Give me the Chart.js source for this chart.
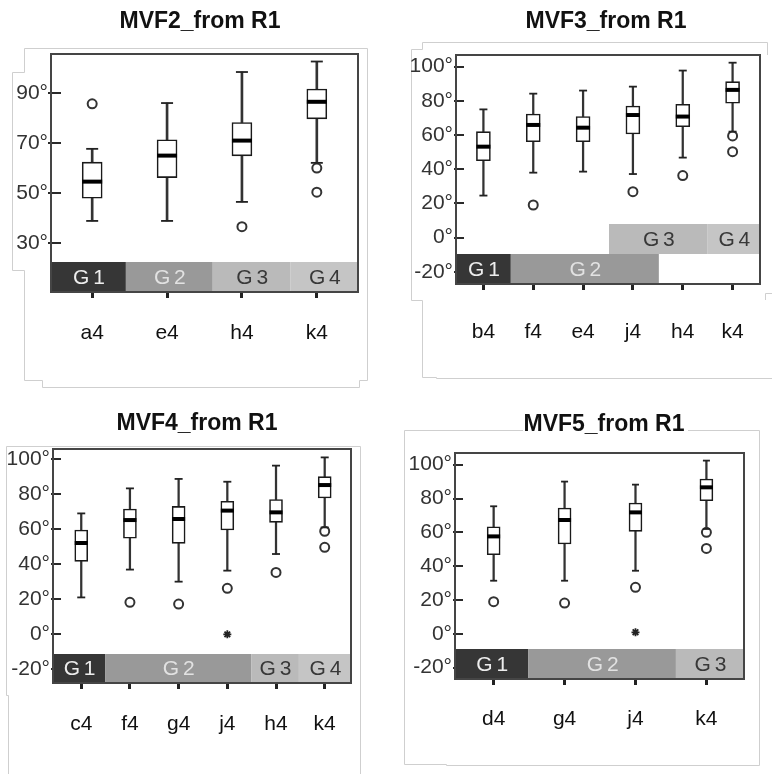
<!DOCTYPE html>
<html><head><meta charset="utf-8">
<script src="https://cdn.jsdelivr.net/npm/chart.js@4.4.1/dist/chart.umd.min.js"></script>
<style>
html,body{margin:0;padding:0;background:#fff;overflow:hidden;width:772px;height:774px}
#wrap{position:relative;width:772px;height:774px;overflow:hidden}
#bg{position:absolute;left:0;top:0}
canvas{position:absolute}
</style></head><body><div id="wrap">
<svg id="bg" width="772" height="774" fill="none" stroke="#cfcfcf" stroke-width="1">
<polyline points="24.5,48.5 367.5,48.5 367.5,380.5 359.5,380.5 359.5,387.5 42.5,387.5 42.5,380.5 24.5,380.5 24.5,270.5 12.5,270.5 12.5,72.5 24.5,72.5 24.5,48.5"/>
<polyline points="767.5,55 767.5,42.5 422.5,42.5 422.5,49.5 411.5,49.5 411.5,300.5 422.5,300.5 422.5,377.5 436.5,377.5 436.5,378.5 772,378.5"/>
<polyline points="765.5,300 765.5,293.5 772,293.5"/>
<polyline points="8.5,774 8.5,695.5 6.5,695.5 6.5,446.5 360.5,446.5 360.5,774"/>
<polyline points="523,430.5 404.5,430.5 404.5,764.5 446.5,764.5 446.5,765.5 759.5,765.5 759.5,430.5 688,430.5"/>
</svg>
<canvas id="c1"></canvas><canvas id="c2"></canvas><canvas id="c3"></canvas><canvas id="c4"></canvas>
</div>
<script>
// ---------------- Panel 1: MVF2_from R1 ----------------
const p1Title = 'MVF2_from R1';
const p1Categories = ['a4', 'e4', 'h4', 'k4'];
const p1Max    = [67.6, 85.9, 98.3, 102.5];
const p1Q3     = [62.3, 71.2, 78.1, 91.5];
const p1Median = [54.5, 64.9, 70.9, 86.4];
const p1Q1     = [47.9, 56.1, 64.8, 79.6];
const p1Min    = [38.8, 38.8, 46.4, 62.0];
const p1OutlierCat = [0, 2, 3, 3];
const p1OutlierVal = [85.6, 36.5, 59.9, 50.3];
const p1ExtremeCat = [];
const p1ExtremeVal = [];
const p1YTicks = [30, 50, 70, 90];
const p1Groups    = ['G 1', 'G 2', 'G 3', 'G 4'];
const p1GroupFrom = [-0.55, 0.45, 1.61, 2.65];
const p1GroupTo   = [0.45, 1.61, 2.65, 3.55];
const p1GroupRow  = [0, 0, 0, 0];

// ---------------- Panel 2: MVF3_from R1 ----------------
const p2Title = 'MVF3_from R1';
const p2Categories = ['b4', 'f4', 'e4', 'j4', 'h4', 'k4'];
const p2Max    = [75.0, 84.2, 86.0, 88.3, 97.7, 102.3];
const p2Q3     = [62.0, 72.3, 70.8, 77.0, 78.0, 91.2];
const p2Median = [53.2, 65.9, 64.3, 71.7, 70.8, 86.4];
const p2Q1     = [45.0, 56.1, 56.1, 60.6, 64.9, 78.6];
const p2Min    = [24.6, 38.0, 38.6, 37.2, 46.8, 62.0];
const p2OutlierCat = [1, 3, 4, 5, 5];
const p2OutlierVal = [19.1, 26.9, 36.3, 59.5, 50.3];
const p2ExtremeCat = [];
const p2ExtremeVal = [];
const p2YTicks = [-20, 0, 20, 40, 60, 80, 100];
const p2Groups    = ['G 1', 'G 2', 'G 3', 'G 4'];
const p2GroupFrom = [-0.55, 0.55, 2.52, 4.5];
const p2GroupTo   = [0.55, 3.52, 4.5, 5.55];
const p2GroupRow  = [0, 0, 1, 1];

// ---------------- Panel 3: MVF4_from R1 ----------------
const p3Title = 'MVF4_from R1';
const p3Categories = ['c4', 'f4', 'g4', 'j4', 'h4', 'k4'];
const p3Max    = [69.1, 83.4, 88.8, 87.2, 96.4, 101.1];
const p3Q3     = [59.6, 71.6, 73.1, 76.0, 77.0, 90.1];
const p3Median = [52.2, 65.3, 65.9, 70.7, 69.7, 85.3];
const p3Q1     = [41.7, 54.9, 52.0, 59.6, 64.0, 77.9];
const p3Min    = [21.1, 37.0, 30.1, 36.4, 45.9, 61.1];
const p3OutlierCat = [1, 2, 3, 4, 5, 5];
const p3OutlierVal = [18.3, 17.3, 26.3, 35.4, 58.9, 49.7];
const p3ExtremeCat = [3];
const p3ExtremeVal = [0.0];
const p3YTicks = [-20, 0, 20, 40, 60, 80, 100];
const p3Groups    = ['G 1', 'G 2', 'G 3', 'G 4'];
const p3GroupFrom = [-0.58, 0.49, 3.49, 4.47];
const p3GroupTo   = [0.49, 3.49, 4.47, 5.54];
const p3GroupRow  = [0, 0, 0, 0];

// ---------------- Panel 4: MVF5_from R1 ----------------
const p4Title = 'MVF5_from R1';
const p4Categories = ['d4', 'g4', 'j4', 'k4'];
const p4Max    = [75.4, 90.0, 88.2, 102.4];
const p4Q3     = [63.3, 74.4, 77.3, 91.5];
const p4Median = [57.6, 67.3, 71.8, 86.6];
const p4Q1     = [46.8, 53.1, 60.6, 78.7];
const p4Min    = [31.4, 31.4, 37.3, 62.0];
const p4OutlierCat = [0, 1, 2, 3, 3];
const p4OutlierVal = [19.0, 18.2, 27.5, 60.0, 50.5];
const p4ExtremeCat = [2];
const p4ExtremeVal = [0.9];
const p4YTicks = [-20, 0, 20, 40, 60, 80, 100];
const p4Groups    = ['G 1', 'G 2', 'G 3'];
const p4GroupFrom = [-0.545, 0.49, 2.57];
const p4GroupTo   = [0.49, 2.57, 3.53];
const p4GroupRow  = [0, 0, 0];

// ---------------- styling ----------------
const LBL_FAMILY = "'Liberation Sans', Arial, sans-serif";
const LBL_SIZE = 21;
const GROUP_FILL = {'G 1': '#363636', 'G 2': '#999999', 'G 3': '#bababa', 'G 4': '#c5c5c5'};
const GROUP_TEXT = {'G 1': '#ededed', 'G 2': '#e2e2e2', 'G 3': '#383838', 'G 4': '#383838'};

const decor = {
  id: 'decor',
  beforeDatasetsDraw(chart, args, o) {
    const {ctx, chartArea: a, scales: {x, y}} = chart;
    ctx.save();
    ctx.strokeStyle = '#2a2a2a'; ctx.lineWidth = 2;
    for (const t of y.ticks) {
      const py = Math.round(y.getPixelForValue(t.value));
      ctx.beginPath(); ctx.moveTo(a.left - o.tickOut, py); ctx.lineTo(a.left + o.tickIn, py); ctx.stroke();
    }
    ctx.textAlign = 'center'; ctx.textBaseline = 'middle';
    ctx.font = LBL_SIZE + 'px ' + LBL_FAMILY;
    if ('letterSpacing' in ctx) ctx.letterSpacing = '-1px';
    o.groups.forEach((g, i) => {
      const x0 = x.getPixelForValue(o.from[i]), x1 = x.getPixelForValue(o.to[i]);
      const yb = a.bottom - o.row[i] * o.bandH, yt = yb - o.bandH;
      ctx.fillStyle = GROUP_FILL[g]; ctx.fillRect(x0, yt, x1 - x0, o.bandH);
      ctx.fillStyle = GROUP_TEXT[g]; ctx.fillText(g, (x0 + x1) / 2, (yt + yb) / 2 + 1);
    });
    ctx.restore();
  },
  afterDatasetsDraw(chart) {
    const {ctx, chartArea: a} = chart;
    ctx.save(); ctx.strokeStyle = '#454545'; ctx.lineWidth = 2;
    ctx.strokeRect(a.left, a.top, a.right - a.left, a.bottom - a.top);
    ctx.restore();
  }
};

function build(id, d, L) {
  const idx = d.cats.map((c, i) => i);
  const yW = L.yW;
  const cl = L.L - yW;
  const cw = 2 * (L.tx - cl);
  const spacer = cl + cw - L.R;
  const tLH = 23 * 1.2;
  const padTop = L.ty - L.ct - tLH / 2;
  const padBot = L.T - L.ct - tLH - padTop;
  const xH = 60;
  const lpb = L.ct + L.ch - L.B - xH;
  const cv = document.getElementById(id);
  cv.width = cw; cv.height = L.ch;
  cv.style.left = cl + 'px'; cv.style.top = L.ct + 'px';
  return new Chart(cv, {
    type: 'bar',
    data: {
      datasets: [
        {type: 'scatter', label: 'median', order: 0,
         data: idx.map(i => ({x: i, y: d.median[i]})),
         pointStyle: 'line', pointRadius: L.boxW / 2, pointBorderWidth: 4, pointBorderColor: '#000'},
        {type: 'scatter', label: 'whisker ends', order: 1,
         data: idx.flatMap(i => [{x: i, y: d.min[i]}, {x: i, y: d.max[i]}]),
         pointStyle: 'line', pointRadius: L.capW / 2, pointBorderWidth: 1.8, pointBorderColor: '#222'},
        {type: 'scatter', label: 'outliers', order: 1,
         data: d.outCat.map((c, k) => ({x: c, y: d.outVal[k]})),
         pointStyle: 'circle', pointRadius: 4.5, pointBorderWidth: 2, pointBorderColor: '#333', pointBackgroundColor: 'rgba(255,255,255,0)'},
        {type: 'scatter', label: 'extremes', order: 1,
         data: d.extCat.map((c, k) => ({x: c, y: d.extVal[k]})),
         pointStyle: 'star', pointRadius: 4, pointBorderWidth: 1.8, pointBorderColor: '#222'},
        {type: 'bar', label: 'box', order: 2, grouped: false,
         data: idx.map(i => ({x: i, y: [d.q1[i], d.q3[i]]})),
         barThickness: L.boxW, backgroundColor: '#fff', borderColor: '#1a1a1a', borderWidth: 1.6, borderSkipped: false},
        {type: 'bar', label: 'lower whisker', order: 3, grouped: false,
         data: idx.map(i => ({x: i, y: [d.min[i], d.q1[i]]})),
         barThickness: L.whW, backgroundColor: '#333', borderWidth: 0},
        {type: 'bar', label: 'upper whisker', order: 3, grouped: false,
         data: idx.map(i => ({x: i, y: [d.q3[i], d.max[i]]})),
         barThickness: L.whW, backgroundColor: '#333', borderWidth: 0}
      ]
    },
    options: {
      responsive: false, animation: false,
      layout: {padding: {left: 0, right: 0, top: 0, bottom: lpb}},
      plugins: {
        legend: {display: false}, tooltip: {enabled: false},
        title: {display: true, text: d.title, color: '#111',
                font: {family: "'Liberation Sans', Arial, sans-serif", size: 23, weight: 'bold', lineHeight: 1.2},
                padding: {top: padTop, bottom: padBot}},
        decor: {groups: d.groups, from: d.gFrom, to: d.gTo, row: d.gRow, bandH: L.bandH, tickIn: L.tickIn, tickOut: L.tickOut}
      },
      scales: {
        x: {type: 'linear', min: L.xMin, max: L.xMax, offset: false,
            afterBuildTicks: a => { a.ticks = idx.map(i => ({value: i})); },
            afterFit: a => { a.height = xH; },
            grid: {display: true, offset: false, drawOnChartArea: false, drawTicks: true, tickLength: 6, lineWidth: 3, color: '#222'},
            border: {display: false},
            ticks: {autoSkip: false, maxRotation: 0, minRotation: 0, padding: L.xPad, color: '#111',
                    font: {family: LBL_FAMILY, size: LBL_SIZE},
                    callback: v => d.cats[v]}},
        y: {type: 'linear', min: L.yMin, max: L.yMax, beginAtZero: false,
            afterBuildTicks: a => { a.ticks = d.yTicks.map(v => ({value: v})); },
            afterFit: a => { a.width = yW; },
            grid: {display: false, drawTicks: false},
            border: {display: false},
            ticks: {padding: 3, color: '#333', font: {family: LBL_FAMILY, size: LBL_SIZE},
                    callback: v => v + '\u00B0'}},
        sp: {type: 'linear', position: 'right', display: true,
             grid: {display: false, drawTicks: false}, border: {display: false}, ticks: {display: false},
             afterFit: a => { a.width = spacer; }}
      }
    },
    plugins: [decor]
  });
}

build('c1', {title: p1Title, cats: p1Categories, max: p1Max, q3: p1Q3, median: p1Median, q1: p1Q1, min: p1Min,
  outCat: p1OutlierCat, outVal: p1OutlierVal, extCat: p1ExtremeCat, extVal: p1ExtremeVal, yTicks: p1YTicks,
  groups: p1Groups, gFrom: p1GroupFrom, gTo: p1GroupTo, gRow: p1GroupRow},
  {yW: 51, ct: 0, ch: 387, L: 51, T: 54, R: 358, B: 292, tx: 200, ty: 22,
   yMin: 10.4, yMax: 105.5, xMin: -0.55, xMax: 3.55, boxW: 20, capW: 12, whW: 2, bandH: 30, tickIn: 10, tickOut: 3, xPad: 23});

build('c2', {title: p2Title, cats: p2Categories, max: p2Max, q3: p2Q3, median: p2Median, q1: p2Q1, min: p2Min,
  outCat: p2OutlierCat, outVal: p2OutlierVal, extCat: p2ExtremeCat, extVal: p2ExtremeVal, yTicks: p2YTicks,
  groups: p2Groups, gFrom: p2GroupFrom, gTo: p2GroupTo, gRow: p2GroupRow},
  {yW: 52, ct: 0, ch: 387, L: 456, T: 55, R: 760, B: 284, tx: 606, ty: 22,
   yMin: -27.1, yMax: 106.8, xMin: -0.55, xMax: 5.55, boxW: 14, capW: 8, whW: 1.6, bandH: 30, tickIn: 8, tickOut: 2, xPad: 30});

build('c3', {title: p3Title, cats: p3Categories, max: p3Max, q3: p3Q3, median: p3Median, q1: p3Q1, min: p3Min,
  outCat: p3OutlierCat, outVal: p3OutlierVal, extCat: p3ExtremeCat, extVal: p3ExtremeVal, yTicks: p3YTicks,
  groups: p3Groups, gFrom: p3GroupFrom, gTo: p3GroupTo, gRow: p3GroupRow},
  {yW: 52, ct: 387, ch: 387, L: 53, T: 449, R: 351, B: 683, tx: 197, ty: 424,
   yMin: -27.8, yMax: 105.9, xMin: -0.58, xMax: 5.54, boxW: 13, capW: 8, whW: 1.6, bandH: 29, tickIn: 8, tickOut: 2, xPad: 23});

build('c4', {title: p4Title, cats: p4Categories, max: p4Max, q3: p4Q3, median: p4Median, q1: p4Q1, min: p4Min,
  outCat: p4OutlierCat, outVal: p4OutlierVal, extCat: p4ExtremeCat, extVal: p4ExtremeVal, yTicks: p4YTicks,
  groups: p4Groups, gFrom: p4GroupFrom, gTo: p4GroupTo, gRow: p4GroupRow},
  {yW: 52, ct: 387, ch: 387, L: 455, T: 453, R: 744, B: 679, tx: 604, ty: 425,
   yMin: -26.7, yMax: 106.9, xMin: -0.545, xMax: 3.53, boxW: 13, capW: 7, whW: 1.6, bandH: 30, tickIn: 8, tickOut: 2, xPad: 22});
</script>
</body></html>
